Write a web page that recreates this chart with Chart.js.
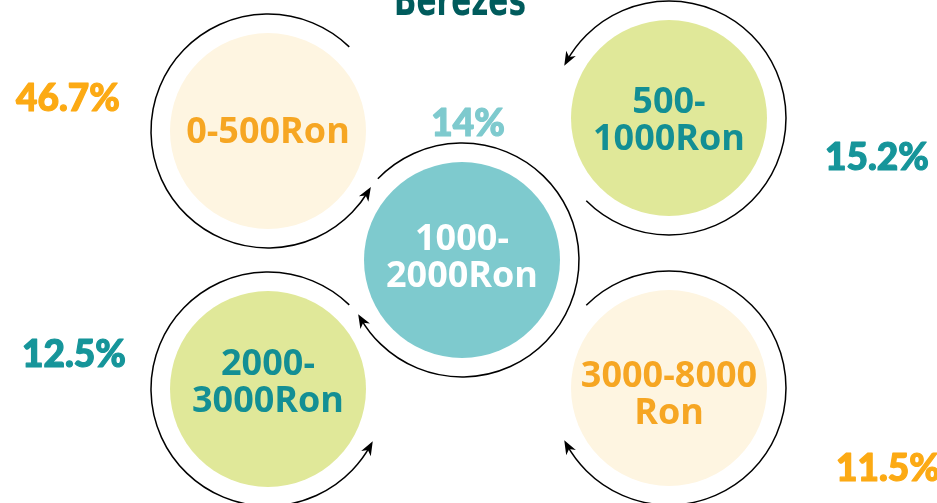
<!DOCTYPE html>
<html lang="ro">
<head>
  <meta charset="UTF-8" />
  <title>Berezes</title>
  <script src="https://cdn.jsdelivr.net/npm/chart.js@4.4.0/dist/chart.umd.min.js"></script>
  <style>
    html, body { margin: 0; padding: 0; background: #fff; overflow: hidden; }
    #wrap { width: 937px; height: 503px; }
  </style>
</head>
<body>
  <div id="wrap">
    <canvas id="chart" width="937" height="503"></canvas>
  </div>
  <script>
    // data
    const title = 'Berezes';
    const categories = [['0-500Ron'], ['500-', '1000Ron'], ['1000-', '2000Ron'], ['2000-', '3000Ron'], ['3000-8000', 'Ron']];
    const shares = [46.7, 15.2, 14, 12.5, 11.5];

    // layout of the infographic (pixel units of the hidden scales)
    const slots = [
      { cx: 268, cy: 131, from: -46, to: 31, ccw: true, lines: [143], pct: [68, 111] },
      { cx: 669, cy: 118, from: 135, to: -151, ccw: true, lines: [113, 150], pct: [877, 170] },
      { cx: 462, cy: 260, from: -136, to: 150, ccw: false, lines: [250, 287], pct: [468, 136] },
      { cx: 268, cy: 389, from: -46, to: 29, ccw: true, lines: [375, 412], pct: [74, 367] },
      { cx: 669, cy: 388, from: -135, to: 151, ccw: false, lines: [387, 424], pct: [888, 481] }
    ];
    const fills = ['#FEF5E1', '#E0E899', '#7ECACE', '#E0E899', '#FEF5E1'];
    const textColors = ['#F6A623', '#138F94', '#FFFFFF', '#138F94', '#F6A623'];
    const pctColors = ['#FCAA14', '#16959A', '#7ECACE', '#16959A', '#FCAA14'];

    const ringRadius = 117;
    const deg = Math.PI / 180;

    const decor = {
      id: 'decor',
      afterDatasetsDraw(chart) {
        const ctx = chart.ctx;
        const pts = chart.getDatasetMeta(0).data;
        ctx.save();

        // title, cut by the top edge
        ctx.fillStyle = '#005B5C';
        ctx.font = 'bold 44px "Liberation Sans Narrow", "DejaVu Sans Condensed", sans-serif';
        ctx.textAlign = 'center';
        ctx.textBaseline = 'alphabetic';
        ctx.fillText(title, 460, 14.5, 132);

        pts.forEach((pt, i) => {
          const s = slots[i];
          const a0 = s.from * deg, a1 = s.to * deg;

          // ring with arrow
          ctx.strokeStyle = '#000';
          ctx.lineWidth = 1.5;
          ctx.beginPath();
          ctx.arc(pt.x, pt.y, ringRadius, a0, a1, s.ccw);
          ctx.stroke();

          const ex = pt.x + ringRadius * Math.cos(a1);
          const ey = pt.y + ringRadius * Math.sin(a1);
          const dx = s.ccw ? Math.sin(a1) : -Math.sin(a1);
          const dy = s.ccw ? -Math.cos(a1) : Math.cos(a1);
          const nx = -dy, ny = dx;
          ctx.fillStyle = '#000';
          ctx.beginPath();
          ctx.moveTo(ex + dx * 5, ey + dy * 5);
          ctx.lineTo(ex - dx * 9 + nx * 5.5, ey - dy * 9 + ny * 5.5);
          ctx.lineTo(ex - dx * 5, ey - dy * 5);
          ctx.lineTo(ex - dx * 9 - nx * 5.5, ey - dy * 9 - ny * 5.5);
          ctx.closePath();
          ctx.fill();

          // category text
          ctx.fillStyle = textColors[i];
          ctx.font = 'bold 36px "Open Sans", "Noto Sans", sans-serif';
          ctx.textAlign = 'center';
          categories[i].forEach((line, k) => {
            ctx.fillText(line, pt.x, s.lines[k]);
          });

          // share, slightly heavier than plain bold
          ctx.fillStyle = pctColors[i];
          ctx.strokeStyle = pctColors[i];
          ctx.lineWidth = 1.2;
          ctx.lineJoin = 'round';
          ctx.font = '900 37px Lato, "Noto Sans", sans-serif';
          ctx.fillText(shares[i] + '%', s.pct[0], s.pct[1]);
          ctx.strokeText(shares[i] + '%', s.pct[0], s.pct[1]);
        });
        ctx.restore();
      }
    };

    new Chart(document.getElementById('chart'), {
      type: 'scatter',
      data: {
        labels: categories.map(c => c.join('')),
        datasets: [{
          data: slots.map(s => ({ x: s.cx, y: s.cy })),
          backgroundColor: fills,
          borderWidth: 0,
          pointRadius: 98,
          pointHoverRadius: 98,
          clip: false
        }]
      },
      options: {
        responsive: false,
        animation: false,
        events: [],
        layout: { padding: 0, autoPadding: false },
        plugins: { legend: { display: false }, tooltip: { enabled: false } },
        scales: {
          x: { type: 'linear', min: 0, max: 937, display: false },
          y: { type: 'linear', min: 0, max: 503, reverse: true, display: false }
        }
      },
      plugins: [decor]
    });
  </script>
</body>
</html>
